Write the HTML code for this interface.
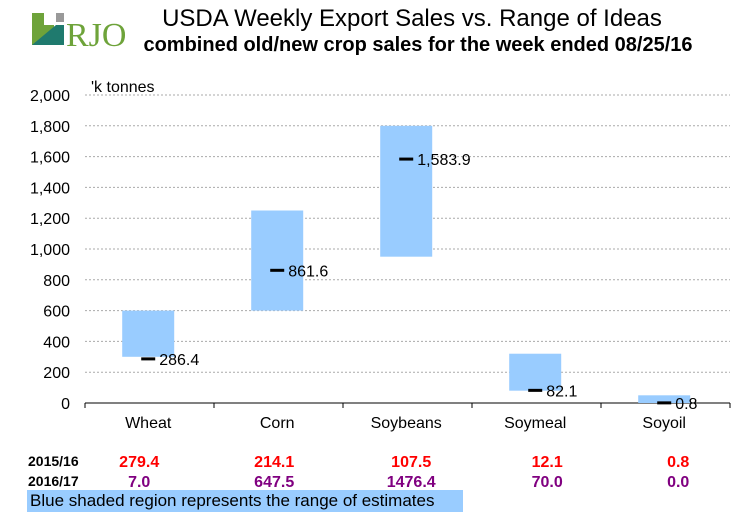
<!DOCTYPE html>
<html><head><meta charset="utf-8"><style>
body{margin:0;background:#fff;font-family:"Liberation Sans",Arial,sans-serif;}
#wrap{position:relative;width:756px;height:516px;overflow:hidden;background:#fff}
.t{position:absolute;white-space:nowrap}
</style></head><body>
<div id="wrap">
<svg width="756" height="516" style="position:absolute;left:0;top:0">
 <g>
  <rect x="32" y="13" width="22" height="32" fill="#6ea33a"/>
  <rect x="44" y="13" width="10" height="12" fill="#fff"/>
  <rect x="56" y="13" width="8" height="9" fill="#999"/>
  <polygon points="32,45 56,25 64,25 64,45" fill="#1f7a6e"/>
  <text x="66" y="46" font-family="Liberation Serif,serif" font-size="34" fill="#6ea33a">RJO</text>
 </g>
 <g id="grid"></g><g id="bars"></g>
</svg>
<div class="t" style="left:112px;top:5px;width:600px;text-align:center;font-size:24px">USDA Weekly Export Sales vs. Range of Ideas</div>
<div class="t" style="left:98px;top:34px;width:640px;text-align:center;font-size:20px;font-weight:bold">combined old/new crop sales for the week ended 08/25/16</div>
<div class="t" style="left:91px;top:79px;font-size:16px">'k tonnes</div>
<div class="t" style="left:27px;top:490px;width:436px;height:22px;background:#99ccff;font-size:17px;line-height:22px;padding-left:3px;box-sizing:border-box">Blue shaded region represents the range of estimates</div>
</div>
<script>
const categories=["Wheat","Corn","Soybeans","Soymeal","Soyoil"];
const rangeLow=[300,600,950,80,0];
const rangeHigh=[600,1250,1800,320,50];
const actual=[286.4,861.6,1583.9,82.1,0.8];
const actualLabels=["286.4","861.6","1,583.9","82.1","0.8"];
const yTicks=[0,200,400,600,800,1000,1200,1400,1600,1800,2000];
const yTickLabels=["0","200","400","600","800","1,000","1,200","1,400","1,600","1,800","2,000"];
const oldCrop=["279.4","214.1","107.5","12.1","0.8"];
const newCrop=["7.0","647.5","1476.4","70.0","0.0"];
const NS="http://www.w3.org/2000/svg";
const x0=85,x1=730,slot=129,yb=403,yt=95,ymax=2000;
const tableOffset=[-9,-3,5,12,14];
const y=v=>yb-(v/ymax)*(yb-yt);
const xc=i=>x0+slot*(i+0.49);
function mk(tag,attrs,parent){const e=document.createElementNS(NS,tag);for(const k in attrs)e.setAttribute(k,attrs[k]);parent.appendChild(e);return e;}
const grid=document.getElementById('grid'),bars=document.getElementById('bars');
yTicks.forEach((v,i)=>{
 if(v>0){const l=mk('line',{x1:x0,x2:x1,y1:y(v),y2:y(v),stroke:'#aaa','stroke-dasharray':'2,2'},grid);
 }
 const t=mk('text',{x:70,y:y(v)+6,'text-anchor':'end','font-size':16},grid);t.textContent=yTickLabels[i];
 
});
const ax=mk('line',{x1:x0,x2:x1,y1:yb,y2:yb,stroke:'#000'},grid);

for(let i=0;i<=categories.length;i++){const tk=mk('line',{x1:x0+slot*i,x2:x0+slot*i,y1:yb,y2:yb+5,stroke:'#000'},grid);
 }
categories.forEach((c,i)=>{
 const cx=xc(i);
 const r=mk('rect',{x:cx-26,y:y(rangeHigh[i]),width:52,height:y(rangeLow[i])-y(rangeHigh[i]),fill:'#99ccff'},bars);
 
 const m=mk('rect',{x:cx-7,y:y(actual[i])-1.5,width:14,height:3,fill:'#000'},bars);
 
 const lt=mk('text',{x:cx+11,y:y(actual[i])+6,'font-size':16},bars);lt.textContent=actualLabels[i];
 
 const cl=mk('text',{x:cx,y:428,'text-anchor':'middle','font-size':16},bars);cl.textContent=c;
 
 const tx=cx+tableOffset[i];
 const a=mk('text',{x:tx,y:467,'text-anchor':'middle','font-size':16,'font-weight':'bold',fill:'#ff0000'},bars);a.textContent=oldCrop[i];
 
 const b=mk('text',{x:tx,y:487,'text-anchor':'middle','font-size':16,'font-weight':'bold',fill:'#800080'},bars);b.textContent=newCrop[i];
 
});
const r1=mk('text',{x:28,y:466,'font-size':14,'font-weight':'bold'},bars);r1.textContent="2015/16";

const r2=mk('text',{x:28,y:486,'font-size':14,'font-weight':'bold'},bars);r2.textContent="2016/17";

</script>
</body></html>
